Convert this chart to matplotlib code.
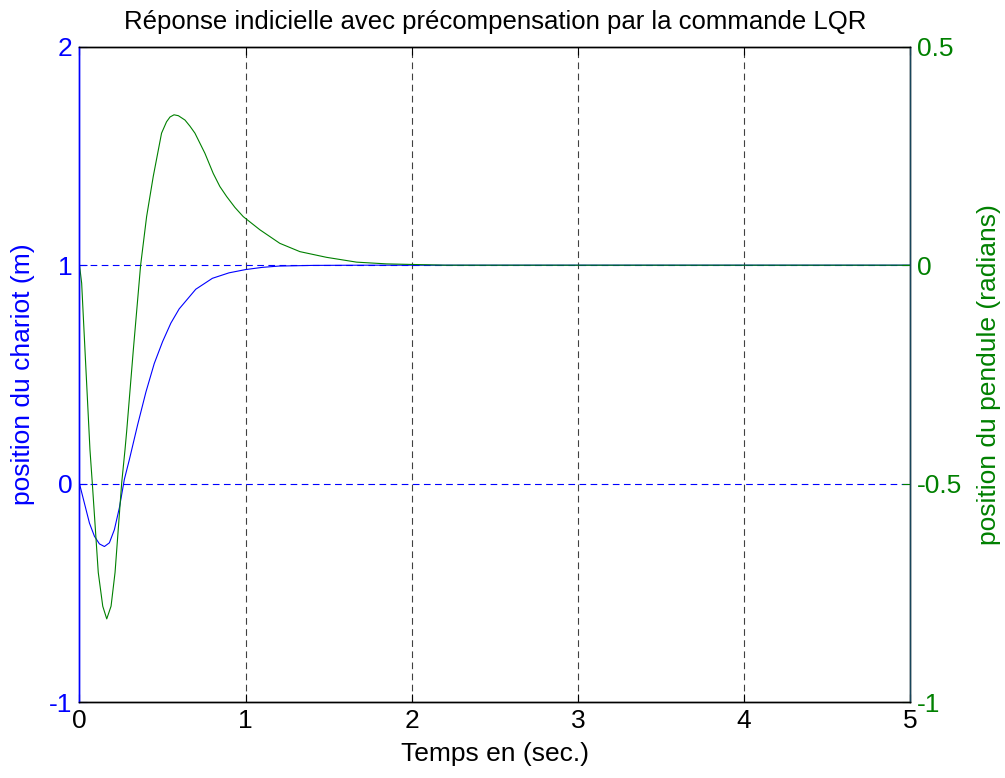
"""
Step response of the cart/pendulum with LQR precompensation (plotyy style).
"""

import matplotlib
matplotlib.use('Agg')
import matplotlib.pyplot as plt

plt.rcParams['font.family'] = ['Liberation Sans', 'DejaVu Sans']
plt.rcParams['axes.unicode_minus'] = False

# cart position (left axis, m)
t_cart = [0, 0.03, 0.06, 0.09, 0.12, 0.15, 0.18, 0.21, 0.24, 0.27, 0.30, 0.35,
          0.40, 0.45, 0.50, 0.55, 0.60, 0.70, 0.80, 0.90, 1.0, 1.1, 1.2, 1.4,
          1.7, 2.0, 3.0, 4.0, 5.0]
x_cart = [0, -0.09, -0.18, -0.24, -0.275, -0.287, -0.27, -0.21, -0.11, 0.02, 0.11, 0.27,
          0.42, 0.55, 0.65, 0.735, 0.80, 0.89, 0.94, 0.965, 0.98, 0.99, 0.996, 0.999,
          1.0, 1.0, 1.0, 1.0, 1.0]

# pendulum angle (right axis, rad)
t_pend = [0, 0.013, 0.033, 0.063, 0.077, 0.113, 0.14, 0.164, 0.19, 0.214, 0.254,
          0.274, 0.284, 0.324, 0.368, 0.404, 0.444, 0.494, 0.524, 0.545, 0.569,
          0.595, 0.635, 0.665, 0.695, 0.755, 0.805, 0.845, 0.886, 0.936, 0.986,
          1.086, 1.206, 1.327, 1.487, 1.668, 1.848, 2.2, 3.0, 4.0, 5.0]
th_pend = [0, -0.041, -0.194, -0.422, -0.498, -0.703, -0.78, -0.809, -0.78, -0.703, -0.498,
           -0.422, -0.38, -0.194, 0.0, 0.111, 0.203, 0.302, 0.328, 0.339, 0.344,
           0.342, 0.332, 0.318, 0.302, 0.256, 0.21, 0.18, 0.157, 0.132, 0.111,
           0.081, 0.05, 0.031, 0.018, 0.007, 0.003, 0.0, 0.0, 0.0, 0.0]

x_ticks = [0, 1, 2, 3, 4, 5]
left_ticks = [-1, 0, 1, 2]
right_ticks = [-1, -0.5, 0, 0.5]
right_labels = ['-1', '-0.5', '0', '0.5']

blue = '#0000ff'
green = '#008000'

fig = plt.figure(figsize=(10.05, 7.78), dpi=100)
ax1 = fig.add_axes([0.0791, 0.0972, 0.8264, 0.8429])
ax2 = ax1.twinx()

ax1.plot(t_cart, x_cart, color=blue, lw=0.8)
ax2.plot(t_pend, th_pend, color=green, lw=0.8)

ax1.set_xlim(0, 5)
ax1.set_ylim(-1, 2)
ax2.set_ylim(-1, 0.5)

ax1.set_xticks(x_ticks)
ax1.set_yticks(left_ticks)
ax2.set_yticks(right_ticks)
ax2.set_yticklabels(right_labels)

# grid: vertical dark dashed, horizontal blue dashed (left axis)
for xv in x_ticks[1:-1]:
    ax1.axvline(xv, color='#404040', lw=0.8, ls=(0, (6, 4)), zorder=0)
for yv in left_ticks[1:-1]:
    ax1.axhline(yv, color=blue, lw=0.8, ls=(0, (6, 4)), zorder=0)

ax1.tick_params(axis='x', direction='in', length=6, labelsize=19, colors='black',
                top=True, pad=5)
ax1.tick_params(axis='y', direction='in', length=6, labelsize=19, colors=blue, pad=5)
ax2.tick_params(axis='y', direction='in', length=6, labelsize=19, colors=green, pad=5)

ax1.spines['left'].set_color(blue)
ax2.spines['left'].set_color(blue)
ax2.spines['right'].set_color('#17455a')
for ax in (ax1, ax2):
    ax.spines['top'].set_color('black')
    ax.spines['bottom'].set_color('black')
    for sp in ax.spines.values():
        sp.set_linewidth(1.0)

ax1.set_xlabel('Temps en (sec.)', fontsize=19, color='black', labelpad=6)
ax1.set_ylabel('position du chariot (m)', fontsize=19, color=blue)
ax1.yaxis.set_label_coords(-0.054, 0.5)
ax2.set_ylabel('position du pendule (radians)', fontsize=19, color=green,
               rotation=90)
ax2.yaxis.set_label_coords(1.081, 0.5)
ax1.set_title('Réponse indicielle avec précompensation par la commande LQR',
              fontsize=18.5, pad=13)

plt.savefig('out.png', dpi=100)
